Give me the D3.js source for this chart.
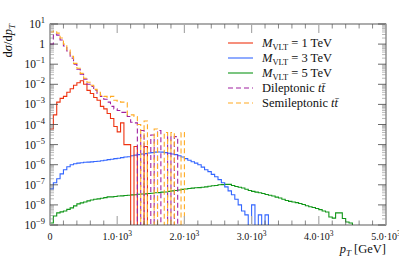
<!DOCTYPE html>
<html>
<head>
<meta charset="utf-8">
<script src="https://cdn.jsdelivr.net/npm/d3@7"></script>
<style>
  body { margin: 0; background: #fff; }
  svg { display: block; font-family: "Liberation Serif", serif; }
</style>
</head>
<body>
<div id="chart"></div>
<script>
// histogram bins: 50 GeV wide, starting at pT = 0
var binWidth = 50;

// M_VLT = 1 TeV
var red1TeV = [6e-5, 3e-4, 1.3e-3, 2e-3, 2.5e-3, 4e-3, 6e-3, 8.9e-3, 1.2e-2, 1.5e-2,
  1.0e-2, 5e-3, 3.5e-3, 2.2e-3, 1.6e-3, 8e-4, 6e-4, 3.5e-4, 2e-4, 8e-5,
  4.3e-5, 1.2e-4, 1e-5, 1e-5, 0, 8e-6, 0, 0, 8e-6];

// M_VLT = 3 TeV
var blue3TeV = [6.3e-8, 1.26e-7, 2.0e-7, 3.5e-7, 5.6e-7, 7.9e-7, 1.0e-6, 1.12e-6, 1.2e-6, 1.26e-6,
  1.32e-6, 1.35e-6, 1.38e-6, 1.45e-6, 1.48e-6, 1.58e-6, 1.66e-6, 1.78e-6, 1.86e-6, 2.0e-6,
  2.1e-6, 2.24e-6, 2.4e-6, 2.5e-6, 2.8e-6, 3.0e-6, 3.16e-6, 3.4e-6, 3.55e-6, 3.8e-6,
  4.0e-6, 4.2e-6, 4.3e-6, 4.2e-6, 4.0e-6, 3.7e-6, 3.4e-6, 3.16e-6, 2.8e-6, 2.4e-6,
  2.0e-6, 1.66e-6, 1.4e-6, 1.2e-6, 1.0e-6, 7.6e-7, 5.6e-7, 4.5e-7, 3.3e-7, 2.5e-7,
  1.8e-7, 1.26e-7, 7.9e-8, 5.0e-8, 3.2e-8, 1.9e-8, 1.0e-8, 5.0e-9, 3.2e-9, 0,
  1e-8, 0, 3.2e-9, 0, 3.2e-9];

// M_VLT = 5 TeV
var green5TeV = [1.26e-9, 2.8e-9, 4.0e-9, 4.5e-9, 5.0e-9, 6.0e-9, 7.1e-9, 8.9e-9, 1.12e-8, 1.26e-8,
  1.4e-8, 1.58e-8, 1.74e-8, 1.9e-8, 2.0e-8, 2.14e-8, 2.3e-8, 2.5e-8, 2.5e-8, 2.6e-8,
  2.75e-8, 2.8e-8, 2.95e-8, 3.0e-8, 3.16e-8, 3.2e-8, 3.4e-8, 3.5e-8, 3.55e-8, 3.7e-8,
  3.8e-8, 4.0e-8, 4.1e-8, 4.3e-8, 4.4e-8, 4.7e-8, 5.0e-8, 5.2e-8, 5.5e-8, 5.9e-8,
  6.2e-8, 6.5e-8, 6.8e-8, 7.1e-8, 7.2e-8, 7.6e-8, 7.9e-8, 8.5e-8, 8.9e-8, 9.3e-8,
  1.0e-7, 1.02e-7, 1.05e-7, 1.05e-7, 9.3e-8, 8.3e-8, 7.6e-8, 6.9e-8, 6.0e-8, 5.2e-8,
  4.7e-8, 4.3e-8, 4.0e-8, 3.7e-8, 3.3e-8, 3.0e-8, 2.75e-8, 2.45e-8, 2.2e-8, 1.9e-8,
  1.66e-8, 1.5e-8, 1.4e-8, 1.3e-8, 1.17e-8, 1.05e-8, 9.1e-9, 8.1e-9, 7.4e-9, 6.6e-9,
  5.8e-9, 5.0e-9, 4.4e-9, 2.5e-9, 2.2e-9, 4.0e-9, 4.0e-9, 2.1e-9, 1.4e-9, 1.26e-9];

// Dileptonic ttbar
var diTT = [1.0, 3.2, 2.8, 1.6, 0.8, 0.45, 0.2, 0.1, 0.056, 0.032,
  0.018, 0.01, 0.0079, 0.005, 0.0035, 0.0025, 0.0018, 0.0013, 0.0008, 0.0006,
  0.0005, 0.0004, 0.0004, 0.00025, 0.00013, 0.00012, 0, 5e-5, 0, 0,
  3e-5, 0, 5e-5, 0, 0, 2.5e-5, 0, 2.5e-5];

// Semileptonic ttbar
var semiTT = [4.0, 4.5, 3.5, 2.0, 1.0, 0.5, 0.25, 0.11, 0.063, 0.035,
  0.02, 0.0126, 0.0089, 0.0056, 0.004, 0.0028, 0.0025, 0.0022, 0.0025, 0.0016,
  0.0014, 0.0013, 0.0012, 0.0003, 0.0003, 0.00025, 1e-4, 0, 1.5e-4, 0,
  0, 6e-5, 0, 0, 4e-5, 0, 4e-5, 0, 0, 4e-5];

var series = [
  { name: "1", values: red1TeV, color: "#ee3311", dash: null },
  { name: "3", values: blue3TeV, color: "#3366ff", dash: null },
  { name: "5", values: green5TeV, color: "#109618", dash: null },
  { name: "di", values: diTT, color: "#a020a0", dash: "5,3" },
  { name: "semi", values: semiTT, color: "#ffaa22", dash: "5,3" }
];
// drawing order (dashed on top of red)
var drawOrder = [2, 1, 0, 3, 4];

var xMajor = [0, 1000, 2000, 3000, 4000, 5000];
var xMajorLabels = ["0", "1.0·10", "2.0·10", "3.0·10", "4.0·10", "5.0·10"];
var yDecades = [-9, -8, -7, -6, -5, -4, -3, -2, -1, 0, 1];

var width = 399, height = 259;
var margin = { top: 24, right: 13, bottom: 34, left: 50 };

var svg = d3.select("#chart").append("svg")
  .attr("width", width)
  .attr("height", height);

var x = d3.scaleLinear().domain([0, 5000]).range([margin.left, width - margin.right]);
var y = d3.scaleLog().domain([1e-9, 10]).range([height - margin.bottom, margin.top]);

svg.append("clipPath").attr("id", "plotclip")
  .append("rect")
  .attr("x", x(0)).attr("y", y(10))
  .attr("width", x(5000) - x(0)).attr("height", y(1e-9) - y(10));

var yFloor = y(1e-9) + 3;
function histPoints(vals) {
  var pts = [];
  var last = vals.length - 1;
  vals.forEach(function (v, i) {
    var yy = v > 0 ? y(v) : yFloor;
    pts.push([x(i * binWidth), yy]);
    pts.push([x((i + 1) * binWidth), yy]);
  });
  pts.push([x((last + 1) * binWidth), yFloor]);
  return pts;
}

var line = d3.line();
var gHist = svg.append("g").attr("clip-path", "url(#plotclip)");
drawOrder.forEach(function (k) {
  var s = series[k];
  gHist.append("path")
    .attr("d", line(histPoints(s.values)))
    .attr("fill", "none")
    .attr("stroke", s.color)
    .attr("stroke-width", 1.1)
    .attr("stroke-dasharray", s.dash);
});

// frame
svg.append("rect")
  .attr("x", x(0)).attr("y", y(10))
  .attr("width", x(5000) - x(0)).attr("height", y(1e-9) - y(10))
  .attr("fill", "none").attr("stroke", "#333").attr("stroke-width", 0.8);

// y ticks, left and right, pointing inwards
var gTicks = svg.append("g");
yDecades.forEach(function (d) {
  var v = Math.pow(10, d);
  [[x(0), 1], [x(5000), -1]].forEach(function (side) {
    gTicks.append("line")
      .attr("x1", side[0]).attr("x2", side[0] + side[1] * 8)
      .attr("y1", y(v)).attr("y2", y(v))
      .attr("stroke", "#444").attr("stroke-width", 0.8);
    if (d < 1) {
      for (var k = 2; k <= 9; k++) {
        var vv = k * v;
        gTicks.append("line")
          .attr("x1", side[0]).attr("x2", side[0] + side[1] * 4)
          .attr("y1", y(vv)).attr("y2", y(vv))
          .attr("stroke", "#888").attr("stroke-width", 0.6);
      }
    }
  });
});

// x ticks, bottom and top
d3.range(0, 5001, 200).forEach(function (t) {
  var major = t % 1000 === 0;
  var len = major ? 9 : 4.5;
  gTicks.append("line")
    .attr("x1", x(t)).attr("x2", x(t))
    .attr("y1", y(1e-9)).attr("y2", y(1e-9) - len)
    .attr("stroke", major ? "#aaa" : "#555").attr("stroke-width", major ? 1.2 : 0.7);
  gTicks.append("line")
    .attr("x1", x(t)).attr("x2", x(t))
    .attr("y1", y(10)).attr("y2", y(10) + len)
    .attr("stroke", major ? "#aaa" : "#555").attr("stroke-width", major ? 1.2 : 0.7);
});

// y tick labels
yDecades.forEach(function (d) {
  var t = svg.append("text")
    .attr("x", x(0) - 5).attr("y", y(Math.pow(10, d)) + 4)
    .attr("text-anchor", "end").attr("font-size", 11.5).attr("fill", "#111");
  if (d === 0) {
    t.text("1");
  } else {
    t.append("tspan").text("10");
    t.append("tspan").attr("dy", -5).attr("font-size", 8.5)
      .text(d < 0 ? "\u2212" + (-d) : String(d));
  }
});

// x tick labels
xMajor.forEach(function (t, i) {
  var tx = svg.append("text")
    .attr("x", x(t)).attr("y", y(1e-9) + 15)
    .attr("text-anchor", "middle").attr("font-size", 10).attr("fill", "#111");
  tx.append("tspan").text(xMajorLabels[i]);
  if (t > 0) {
    tx.append("tspan").attr("dy", -4).attr("font-size", 7.5).text("3");
  }
});

// axis titles
var xt = svg.append("text")
  .attr("x", x(5000)).attr("y", height - 6)
  .attr("text-anchor", "end").attr("font-size", 12.5).attr("fill", "#111");
xt.append("tspan").attr("font-style", "italic").text("p");
xt.append("tspan").attr("font-style", "italic").attr("font-size", 9).attr("dy", 2.5).text("T");
xt.append("tspan").attr("dy", -2.5).text(" [GeV]");

var yt = svg.append("text")
  .attr("transform", "translate(12," + (y(10)) + ") rotate(-90)")
  .attr("text-anchor", "end").attr("font-size", 12.5).attr("fill", "#111");
yt.append("tspan").text("d");
yt.append("tspan").attr("font-style", "italic").text("σ");
yt.append("tspan").text("/d");
yt.append("tspan").attr("font-style", "italic").text("p");
yt.append("tspan").attr("font-style", "italic").attr("font-size", 9).attr("dy", 2.5).text("T");

// legend
var legendRows = [43, 58, 73, 88, 103];
var legend = svg.append("g");
series.forEach(function (s, i) {
  var ly = legendRows[i];
  legend.append("line")
    .attr("x1", 228).attr("x2", 253).attr("y1", ly).attr("y2", ly)
    .attr("stroke", s.color).attr("stroke-width", 1.1)
    .attr("stroke-dasharray", s.dash);
  var t = legend.append("text")
    .attr("x", 262).attr("y", ly + 4).attr("font-size", 12.5).attr("fill", "#111");
  if (i < 3) {
    t.append("tspan").attr("font-style", "italic").text("M");
    t.append("tspan").attr("font-size", 8.5).attr("dy", 2.5).text("VLT");
    t.append("tspan").attr("dy", -2.5).text(" = " + s.name + " TeV");
  } else {
    t.append("tspan").text(i === 3 ? "Dileptonic " : "Semileptonic ");
    t.append("tspan").attr("font-style", "italic").text("t");
    t.append("tspan").attr("font-style", "italic").text("t\u0304");
  }
});
</script>
</body>
</html>
